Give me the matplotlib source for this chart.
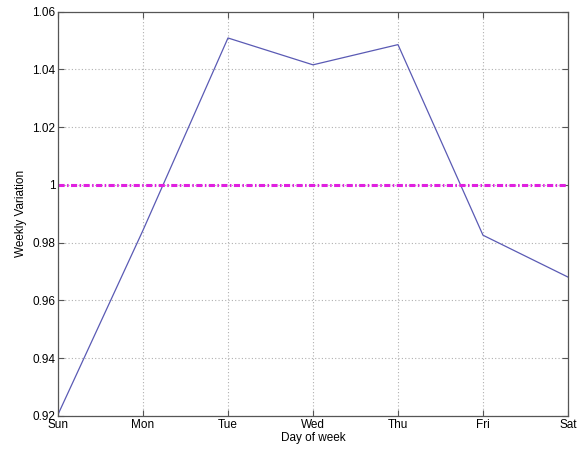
import matplotlib
matplotlib.use("Agg")
import matplotlib.pyplot as plt

# Weekly variation by day of week
days = ["Sun", "Mon", "Tue", "Wed", "Thu", "Fri", "Sat"]
variation = [0.9205, 0.9843, 1.0509, 1.0416, 1.0486, 0.9826, 0.9681]
baseline = [1.0] * len(days)
yticks = [0.92, 0.94, 0.96, 0.98, 1.00, 1.02, 1.04, 1.06]
ylabels = ["0.92", "0.94", "0.96", "0.98", "1", "1.02", "1.04", "1.06"]

plt.rcParams["font.family"] = ["Liberation Sans", "DejaVu Sans"]
plt.rcParams["font.size"] = 8.5

fig = plt.figure(figsize=(5.81, 4.5), dpi=100)
ax = fig.add_axes([0.0998, 0.0756, 0.8778, 0.8984])

x = list(range(len(days)))
ax.plot(x, variation, color="#5a5ab4", lw=0.9)
ax.plot(x, baseline, color="#e020e0", lw=2.2, ls=(0, (2.0, 0.8, 0.5, 0.8)))

ax.set_xlim(0, len(days) - 1)
ax.set_ylim(0.92, 1.06)
ax.set_xticks(x)
ax.set_xticklabels(days)
ax.set_yticks(yticks)
ax.set_yticklabels(ylabels)

ax.grid(True, ls=(0, (1, 2)), color="#b0b0b0", lw=0.8)
ax.tick_params(direction="in", top=True, right=True, length=4, width=0.8,
               color="#555555", pad=2)
for s in ax.spines.values():
    s.set_color("#555555")
    s.set_linewidth(0.9)

ax.set_xlabel("Day of week", labelpad=1)
ax.set_ylabel("Weekly Variation", labelpad=4)

fig.savefig("out.png", dpi=100)
